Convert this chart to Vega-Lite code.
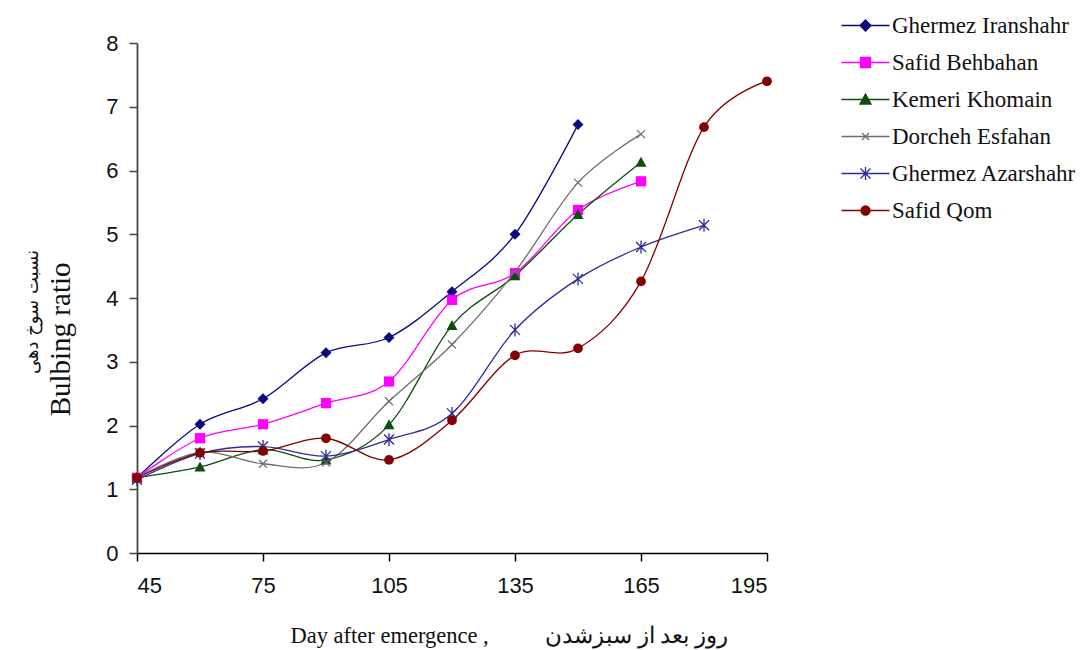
{
  "$schema": "https://vega.github.io/schema/vega-lite/v6.json",
  "autosize": {"type": "none"},
  "width": 630,
  "height": 510,
  "padding": {"left": 137, "top": 43, "right": 313, "bottom": 97},
  "background": "white",
  "config": {
    "view": {"stroke": null},
    "axis": {"grid": false},
    "legend": {"labelFont": "Liberation Serif", "labelFontSize": 23, "labelColor": "#111", "labelLimit": 400}
  },
  "title": {
    "text": "نسبت سوخ دهی",
    "orient": "left",
    "anchor": "middle",
    "frame": "group",
    "font": "DejaVu Sans",
    "fontSize": 18,
    "fontWeight": "normal",
    "color": "#111",
    "offset": 4,
    "dx": -14
  },
  "data": {
    "values": [
      {"series": "Ghermez Iranshahr", "day": 45, "ratio": 1.18},
      {"series": "Ghermez Iranshahr", "day": 60, "ratio": 2.02},
      {"series": "Ghermez Iranshahr", "day": 75, "ratio": 2.42},
      {"series": "Ghermez Iranshahr", "day": 90, "ratio": 3.14},
      {"series": "Ghermez Iranshahr", "day": 105, "ratio": 3.38},
      {"series": "Ghermez Iranshahr", "day": 120, "ratio": 4.1},
      {"series": "Ghermez Iranshahr", "day": 135, "ratio": 5.0},
      {"series": "Ghermez Iranshahr", "day": 150, "ratio": 6.72},
      {"series": "Safid Behbahan", "day": 45, "ratio": 1.18},
      {"series": "Safid Behbahan", "day": 60, "ratio": 1.8},
      {"series": "Safid Behbahan", "day": 75, "ratio": 2.02},
      {"series": "Safid Behbahan", "day": 90, "ratio": 2.35},
      {"series": "Safid Behbahan", "day": 105, "ratio": 2.69},
      {"series": "Safid Behbahan", "day": 120, "ratio": 3.97},
      {"series": "Safid Behbahan", "day": 135, "ratio": 4.39},
      {"series": "Safid Behbahan", "day": 150, "ratio": 5.38},
      {"series": "Safid Behbahan", "day": 165, "ratio": 5.83},
      {"series": "Kemeri Khomain", "day": 45, "ratio": 1.18},
      {"series": "Kemeri Khomain", "day": 60, "ratio": 1.35},
      {"series": "Kemeri Khomain", "day": 75, "ratio": 1.62},
      {"series": "Kemeri Khomain", "day": 90, "ratio": 1.46},
      {"series": "Kemeri Khomain", "day": 105, "ratio": 2.01},
      {"series": "Kemeri Khomain", "day": 120, "ratio": 3.57},
      {"series": "Kemeri Khomain", "day": 135, "ratio": 4.35},
      {"series": "Kemeri Khomain", "day": 150, "ratio": 5.31},
      {"series": "Kemeri Khomain", "day": 165, "ratio": 6.13},
      {"series": "Dorcheh Esfahan", "day": 45, "ratio": 1.18},
      {"series": "Dorcheh Esfahan", "day": 60, "ratio": 1.58},
      {"series": "Dorcheh Esfahan", "day": 75, "ratio": 1.4},
      {"series": "Dorcheh Esfahan", "day": 90, "ratio": 1.42},
      {"series": "Dorcheh Esfahan", "day": 105, "ratio": 2.38},
      {"series": "Dorcheh Esfahan", "day": 120, "ratio": 3.27},
      {"series": "Dorcheh Esfahan", "day": 135, "ratio": 4.41},
      {"series": "Dorcheh Esfahan", "day": 150, "ratio": 5.81},
      {"series": "Dorcheh Esfahan", "day": 165, "ratio": 6.57},
      {"series": "Ghermez Azarshahr", "day": 45, "ratio": 1.15},
      {"series": "Ghermez Azarshahr", "day": 60, "ratio": 1.56},
      {"series": "Ghermez Azarshahr", "day": 75, "ratio": 1.67},
      {"series": "Ghermez Azarshahr", "day": 90, "ratio": 1.52},
      {"series": "Ghermez Azarshahr", "day": 105, "ratio": 1.78},
      {"series": "Ghermez Azarshahr", "day": 120, "ratio": 2.19},
      {"series": "Ghermez Azarshahr", "day": 135, "ratio": 3.5},
      {"series": "Ghermez Azarshahr", "day": 150, "ratio": 4.3},
      {"series": "Ghermez Azarshahr", "day": 165, "ratio": 4.8},
      {"series": "Ghermez Azarshahr", "day": 180, "ratio": 5.14},
      {"series": "Safid Qom", "day": 45, "ratio": 1.18},
      {"series": "Safid Qom", "day": 60, "ratio": 1.57},
      {"series": "Safid Qom", "day": 75, "ratio": 1.6},
      {"series": "Safid Qom", "day": 90, "ratio": 1.8},
      {"series": "Safid Qom", "day": 105, "ratio": 1.46},
      {"series": "Safid Qom", "day": 120, "ratio": 2.08},
      {"series": "Safid Qom", "day": 135, "ratio": 3.1},
      {"series": "Safid Qom", "day": 150, "ratio": 3.21},
      {"series": "Safid Qom", "day": 165, "ratio": 4.26},
      {"series": "Safid Qom", "day": 180, "ratio": 6.68},
      {"series": "Safid Qom", "day": 195, "ratio": 7.4}
    ]
  },
  "encoding": {
    "x": {
      "field": "day",
      "type": "quantitative",
      "scale": {"domain": [45, 195], "nice": false, "zero": false},
      "axis": {
        "values": [45, 75, 105, 135, 165, 195],
        "labelAngle": 0,
        "labelFont": "Liberation Sans",
        "labelFontSize": 22,
        "labelColor": "#111",
        "labelPadding": 14,
        "tickSize": 8,
        "tickColor": "#000",
        "tickWidth": 1.5,
        "domainColor": "#000",
        "domainWidth": 1.5,
        "title": "Day after emergence ,\u00a0\u00a0\u00a0\u00a0\u00a0\u00a0\u00a0\u00a0\u00a0 روز بعد از سبزشدن",
        "titleFont": "Liberation Serif",
        "titleFontSize": 22.5,
        "titleFontWeight": "normal",
        "titleColor": "#111",
        "titleAlign": "left",
        "titleBaseline": "middle",
        "titleX": 153,
        "titleY": 82
      }
    },
    "y": {
      "field": "ratio",
      "type": "quantitative",
      "scale": {"domain": [0, 8], "nice": false},
      "axis": {
        "values": [0, 1, 2, 3, 4, 5, 6, 7, 8],
        "labelFont": "Liberation Sans",
        "labelFontSize": 22,
        "labelColor": "#111",
        "labelPadding": 11,
        "tickSize": 8,
        "tickColor": "#444",
        "tickWidth": 1.5,
        "domainColor": "#444",
        "domainWidth": 1.8,
        "title": "Bulbing ratio",
        "titleFont": "Liberation Serif",
        "titleFontSize": 29,
        "titleFontWeight": "normal",
        "titleColor": "#111",
        "titleAlign": "right",
        "titleBaseline": "middle",
        "titleAngle": -90,
        "titleX": -77,
        "titleY": 219
      }
    },
    "color": {
      "field": "series",
      "type": "nominal",
      "scale": {
        "domain": ["Ghermez Iranshahr", "Safid Behbahan", "Kemeri Khomain", "Dorcheh Esfahan", "Ghermez Azarshahr", "Safid Qom"],
        "range": ["#0a0a80", "#ff00ff", "#0d4d0d", "#6e6e6e", "#2c2c98", "#820000"]
      },
      "legend": {
        "orient": "none",
        "legendX": 717,
        "legendY": -29,
        "title": null,
        "padding": 0,
        "symbolSize": 100,
        "symbolStrokeWidth": 1.3,
        "symbolOpacity": 1,
        "labelFont": "Liberation Serif",
        "labelFontSize": 23,
        "labelColor": "#111",
        "labelOffset": 15,
        "labelLimit": 400,
        "rowPadding": 13
      }
    }
  },
  "layer": [
    {
      "mark": {"type": "line", "interpolate": "cardinal", "tension": 0, "strokeWidth": 1.3}
    },
    {
      "transform": [{"filter": "datum.series === 'Ghermez Iranshahr'"}],
      "mark": {"type": "point", "filled": true, "opacity": 1, "shape": "diamond", "size": 120}
    },
    {
      "transform": [{"filter": "datum.series === 'Safid Behbahan'"}],
      "mark": {"type": "point", "filled": true, "opacity": 1, "shape": "square", "size": 105}
    },
    {
      "transform": [{"filter": "datum.series === 'Kemeri Khomain'"}],
      "mark": {"type": "point", "filled": true, "opacity": 1, "shape": "M0,-1.1L1.1,0.9L-1.1,0.9Z", "size": 100}
    },
    {
      "transform": [{"filter": "datum.series === 'Dorcheh Esfahan'"}],
      "mark": {"type": "point", "filled": false, "opacity": 1, "strokeWidth": 1.2, "shape": "M-1,-1L1,1M-1,1L1,-1", "size": 64}
    },
    {
      "transform": [{"filter": "datum.series === 'Ghermez Azarshahr'"}],
      "mark": {"type": "point", "filled": false, "opacity": 1, "strokeWidth": 1.3, "shape": "M-1,-1L1,1M-1,1L1,-1M0,-1.3L0,1.3", "size": 100}
    },
    {
      "transform": [{"filter": "datum.series === 'Safid Qom'"}],
      "mark": {"type": "point", "filled": true, "opacity": 1, "shape": "circle", "size": 95}
    },
    {
      "transform": [{"filter": "datum.day === 45"}],
      "mark": {"type": "point", "filled": true, "opacity": 0, "strokeWidth": 1.3},
      "encoding": {
        "shape": {
          "field": "series",
          "type": "nominal",
          "scale": {
            "domain": ["Ghermez Iranshahr", "Safid Behbahan", "Kemeri Khomain", "Dorcheh Esfahan", "Ghermez Azarshahr", "Safid Qom"],
            "range": [
              "M-4.8,0L4.8,0M0,-1.1L1.1,0L0,1.1L-1.1,0Z",
              "M-4.8,0L4.8,0M-1,-1L1,-1L1,1L-1,1Z",
              "M-4.8,0L4.8,0M0,-1.1L1.1,0.9L-1.1,0.9Z",
              "M-4.8,0L4.8,0M-0.7,-0.7L0.7,0.7M-0.7,0.7L0.7,-0.7",
              "M-4.8,0L4.8,0M-1,-1L1,1M-1,1L1,-1M0,-1.3L0,1.3",
              "M-4.8,0L4.8,0M-0.9,0A0.9,0.9,0,1,0,0.9,0A0.9,0.9,0,1,0,-0.9,0Z"
            ]
          },
          "legend": {
            "orient": "none",
            "legendX": 717,
            "legendY": -29,
            "title": null,
            "padding": 0,
            "symbolSize": 100,
            "symbolStrokeWidth": 1.3,
            "symbolOpacity": 1,
            "labelFont": "Liberation Serif",
            "labelFontSize": 23,
            "labelColor": "#111",
            "labelOffset": 15,
            "labelLimit": 400,
            "rowPadding": 13
          }
        },
        "size": {"value": 100}
      }
    }
  ]
}
